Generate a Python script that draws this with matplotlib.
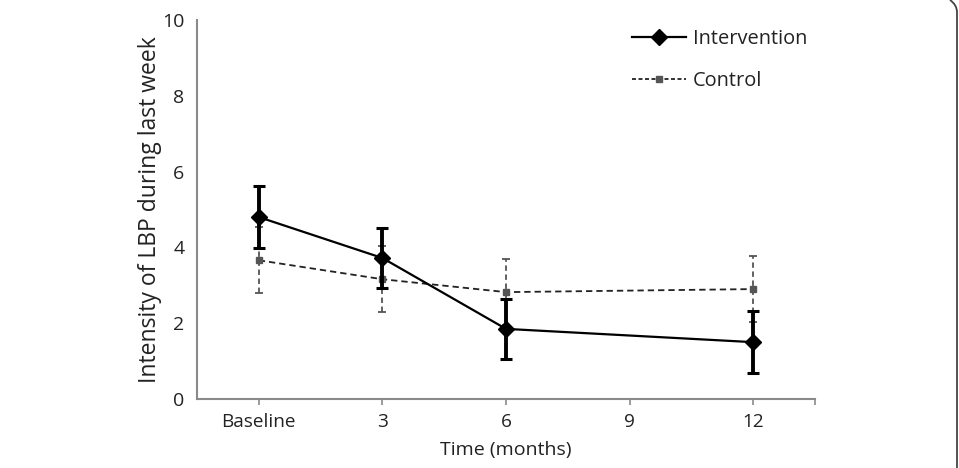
import matplotlib
matplotlib.use("Agg")
import matplotlib.pyplot as plt
from matplotlib.lines import Line2D
from matplotlib.path import Path
from matplotlib.patches import PathPatch

# ---- data ----
tick_positions = [0, 3, 6, 9, 12]
tick_labels = ["Baseline", "3", "6", "9", "12"]
months = [0, 3, 6, 12]
intervention_mean = [4.8, 3.72, 1.85, 1.5]
intervention_err = [0.82, 0.8, 0.8, 0.81]
control_mean = [3.66, 3.16, 2.82, 2.9]
control_err = [0.87, 0.87, 0.87, 0.88]

plt.rcParams['font.family'] = ['Open Sans', 'DejaVu Sans']

fig = plt.figure(figsize=(9.59, 4.68), dpi=100)
ax = fig.add_axes([197/959, 1-399/468, (815-197)/959, (399-20)/468])

axis_gray = "#8a8a8a"
ctrl_gray = "#555555"
text_col = "#222222"

# Control series
ctrl = ax.errorbar(months, control_mean, yerr=control_err, color="#222222",
                   linestyle=(0, (3.5, 2.2)), linewidth=1.3,
                   marker="s", markersize=5, markerfacecolor=ctrl_gray,
                   markeredgecolor=ctrl_gray, ecolor=ctrl_gray,
                   elinewidth=1.3, capsize=3, capthick=1.3, zorder=3)
for bl in ctrl[2]:
    bl.set_linestyle((0, (3, 2)))

# Intervention series
ax.errorbar(months, intervention_mean, yerr=intervention_err, color="black",
            linestyle="-", linewidth=1.6,
            marker="D", markersize=8, markerfacecolor="black",
            markeredgecolor="black", ecolor="black",
            elinewidth=2.8, capsize=4.5, capthick=2.2, zorder=4)

ax.set_xlim(-1.5, 13.5)
ax.set_ylim(0, 10)
ax.set_yticks([0, 2, 4, 6, 8, 10])
ax.set_xticks(tick_positions)
ax.set_xticklabels(tick_labels)
ax.set_xticks([13.5], minor=True)

for s in ["top", "right"]:
    ax.spines[s].set_visible(False)
for s in ["left", "bottom"]:
    ax.spines[s].set_color(axis_gray)
    ax.spines[s].set_linewidth(1.5)

ax.tick_params(axis="y", length=0, labelsize=14, pad=9, colors=text_col)
ax.tick_params(axis="x", which="both", length=4, width=1.2, color=axis_gray,
               labelsize=13.7, pad=6, labelcolor=text_col)

ax.set_xlabel("Time (months)", fontsize=14, color=text_col, labelpad=7)
ax.set_ylabel("Intensity of LBP during last week", fontsize=16.5,
              color=text_col, labelpad=0)

handles = [
    Line2D([], [], color="black", linewidth=1.6, marker="D", markersize=8),
    Line2D([], [], color="#222222", linestyle=(0, (2.2, 1.4)), linewidth=1.3,
           marker="s", markersize=5, markerfacecolor=ctrl_gray,
           markeredgecolor=ctrl_gray),
]
ax.legend(handles, ["Intervention", "Control"], loc="upper left",
          bbox_to_anchor=(614/959, 1-11/468), bbox_transform=fig.transFigure,
          frameon=False, fontsize=14.4, labelspacing=1.1, handlelength=2.7,
          handletextpad=0.35, labelcolor=text_col)

# journal frame edge on the right
verts = [(950/959, 1.0), (957/959, 1 - 5/468), (957/959, 1 - 12/468), (957/959, 0.0)]
codes = [Path.MOVETO, Path.CURVE3, Path.CURVE3, Path.LINETO]
fig.patches.append(PathPatch(Path(verts, codes), transform=fig.transFigure,
                             facecolor="none", edgecolor="#444444", linewidth=1.3))

fig.savefig("out.png", dpi=100)
